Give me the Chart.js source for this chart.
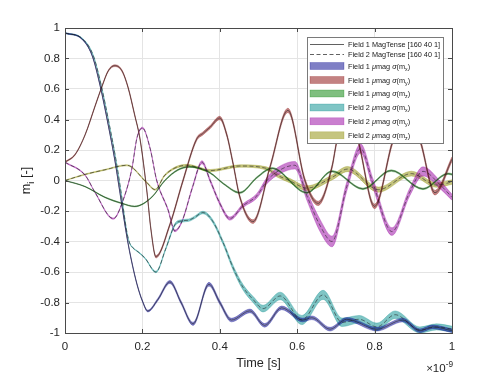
<!DOCTYPE html>
<html><head><meta charset="utf-8">
<script src="https://cdn.jsdelivr.net/npm/chart.js@4.4.0/dist/chart.umd.min.js"></script>
<style>html,body{margin:0;padding:0;background:#fff;}#wrap{width:500px;height:375px;}</style>
</head><body><div id="wrap"><canvas id="c" width="500" height="375"></canvas></div>
<script>
// ---- tick labels ----
const xTickLabels = ['0','0.2','0.4','0.6','0.8','1'];
const yTickLabels = ['-1','-0.8','-0.6','-0.4','-0.2','0','0.2','0.4','0.6','0.8','1'];

// ---- Field 1 m_x ----
const f1mxT = [0,0.043,0.07,0.09,0.112,0.129,0.142,0.16,0.173,0.186,0.2,0.214,0.24,0.271,0.3,0.331,0.372,0.4,0.43,0.478,0.516,0.56,0.614,0.638,0.685,0.728,0.806,0.873,0.917,0.95,1.0];
const f1mxV = [0.967,0.93,0.82,0.63,0.36,0.13,-0.08,-0.37,-0.54,-0.68,-0.79,-0.856,-0.78,-0.665,-0.8,-0.94,-0.68,-0.8,-0.915,-0.855,-0.95,-0.835,-0.915,-0.9,-0.975,-0.91,-0.975,-0.915,-0.985,-0.96,-0.985];
const f1mxS = [0.003,0.003,0.003,0.004,0.004,0.004,0.004,0.005,0.005,0.005,0.005,0.006,0.008,0.01,0.01,0.01,0.012,0.012,0.012,0.012,0.012,0.012,0.012,0.012,0.012,0.012,0.012,0.012,0.012,0.012,0.012];
// ---- Field 1 m_y ----
const f1myT = [0,0.026,0.052,0.078,0.096,0.112,0.129,0.147,0.163,0.18,0.194,0.212,0.222,0.235,0.271,0.305,0.34,0.357,0.375,0.40,0.418,0.434,0.452,0.486,0.53,0.576,0.62,0.654,0.69,0.703,0.73,0.757,0.8,0.848,0.882,0.917,0.956,1.0];
const f1myV = [0.12,0.17,0.30,0.49,0.62,0.72,0.753,0.72,0.61,0.43,0.27,-0.08,-0.32,-0.50,-0.29,0.0,0.27,0.31,0.35,0.41,0.30,0.115,-0.11,-0.27,0.09,0.46,0.0,-0.15,0.09,0.265,0.45,0.265,-0.17,0.265,0.42,0.265,-0.08,0.14];
const f1myS = [0.004,0.004,0.004,0.005,0.005,0.005,0.006,0.006,0.006,0.006,0.006,0.006,0.007,0.008,0.009,0.01,0.01,0.01,0.01,0.011,0.011,0.011,0.011,0.012,0.012,0.014,0.014,0.014,0.014,0.014,0.015,0.015,0.015,0.015,0.015,0.015,0.015,0.015];
// ---- Field 1 m_z ----
const f1mzT = [0,0.052,0.103,0.147,0.18,0.224,0.258,0.292,0.322,0.375,0.409,0.452,0.496,0.535,0.625,0.69,0.77,0.843,0.925,0.99,1.0];
const f1mzV = [0,-0.04,-0.11,-0.15,-0.17,-0.11,0.0,0.07,0.09,0.05,-0.02,-0.08,0.02,0.08,-0.08,0.06,-0.055,0.065,-0.055,0.045,0.04];
const f1mzS = [0.002,0.002,0.003,0.003,0.003,0.003,0.004,0.004,0.004,0.004,0.004,0.005,0.005,0.005,0.005,0.005,0.005,0.005,0.005,0.005,0.005];
// ---- Field 2 m_x ----
const f2mxT = [0,0.045,0.073,0.093,0.115,0.132,0.145,0.16,0.167,0.175,0.19,0.207,0.235,0.26,0.284,0.302,0.32,0.336,0.356,0.38,0.409,0.434,0.46,0.486,0.512,0.556,0.612,0.667,0.716,0.76,0.806,0.853,0.917,0.96,1.0];
const f2mxV = [0.967,0.93,0.82,0.63,0.36,0.13,-0.08,-0.34,-0.41,-0.44,-0.47,-0.51,-0.60,-0.45,-0.29,-0.265,-0.26,-0.24,-0.21,-0.26,-0.41,-0.57,-0.70,-0.78,-0.84,-0.757,-0.915,-0.75,-0.93,-0.91,-0.96,-0.88,-0.98,-0.96,-0.975];
const f2mxS = [0.003,0.003,0.003,0.003,0.003,0.003,0.003,0.003,0.003,0.003,0.003,0.003,0.005,0.006,0.008,0.008,0.008,0.008,0.008,0.01,0.012,0.015,0.018,0.02,0.022,0.025,0.03,0.03,0.028,0.025,0.025,0.025,0.02,0.02,0.02];
// ---- Field 2 m_y ----
const f2myT = [0,0.052,0.078,0.125,0.15,0.173,0.186,0.2,0.22,0.237,0.266,0.284,0.302,0.33,0.354,0.375,0.40,0.426,0.46,0.496,0.522,0.556,0.594,0.625,0.66,0.69,0.728,0.764,0.796,0.845,0.89,0.925,0.97,1.0];
const f2myV = [0.12,0.035,-0.08,-0.25,-0.13,0.08,0.28,0.345,0.21,0.0,-0.19,-0.33,-0.27,-0.04,0.12,0.0,-0.15,-0.25,-0.165,-0.1,0.0,0.07,0.10,-0.1,-0.3,-0.40,-0.04,0.21,-0.02,-0.335,-0.08,0.06,-0.03,-0.11];
const f2myS = [0.003,0.003,0.003,0.004,0.004,0.004,0.004,0.005,0.005,0.005,0.006,0.006,0.006,0.008,0.01,0.01,0.01,0.01,0.012,0.015,0.02,0.025,0.025,0.03,0.04,0.035,0.03,0.03,0.03,0.025,0.025,0.03,0.025,0.02];
// ---- Field 2 m_z ----
const f2mzT = [0,0.052,0.103,0.16,0.21,0.233,0.258,0.315,0.375,0.452,0.52,0.548,0.58,0.625,0.69,0.73,0.81,0.895,0.96,1.0];
const f2mzV = [0,0.04,0.07,0.10,-0.01,-0.06,0.035,0.10,0.065,0.095,0.08,0.035,0.0,-0.05,0.02,0.075,-0.06,0.045,-0.03,-0.01];
const f2mzS = [0.002,0.003,0.003,0.004,0.004,0.004,0.005,0.006,0.007,0.008,0.01,0.012,0.014,0.015,0.016,0.017,0.017,0.016,0.015,0.015];

const legendLabels = ['Field 1 MagTense [160 40 1]','Field 2 MagTense [160 40 1]',
  'Field 1 μmag σ(m_x)','Field 1 μmag σ(m_y)','Field 1 μmag σ(m_z)',
  'Field 2 μmag σ(m_x)','Field 2 μmag σ(m_y)','Field 2 μmag σ(m_z)'];

const series = [
  {T:f1mxT,V:f1mxV,S:f1mxS,col:[0,0,140],dash:[]},
  {T:f1myT,V:f1myV,S:f1myS,col:[135,5,5],dash:[]},
  {T:f1mzT,V:f1mzV,S:f1mzS,col:[0,128,0],dash:[]},
  {T:f2mxT,V:f2mxV,S:f2mxS,col:[0,140,140],dash:[4,2.5]},
  {T:f2myT,V:f2myV,S:f2myS,col:[150,0,160],dash:[4,2.5]},
  {T:f2mzT,V:f2mzV,S:f2mzS,col:[140,140,0],dash:[4,2.5]}
];
const rgba=(c,a)=>`rgba(${c[0]},${c[1]},${c[2]},${a})`;

const datasets=[];
series.forEach(s=>{
  datasets.push({data:s.T.map((t,i)=>({x:t,y:s.V[i]-s.S[i]})),borderColor:rgba(s.col,0.5),borderWidth:0.6,pointRadius:0,fill:false,cubicInterpolationMode:'monotone',order:2});
  datasets.push({data:s.T.map((t,i)=>({x:t,y:s.V[i]+s.S[i]})),borderColor:rgba(s.col,0.5),borderWidth:0.6,pointRadius:0,backgroundColor:rgba(s.col,0.5),fill:'-1',cubicInterpolationMode:'monotone',order:2});
});
series.forEach(s=>{
  datasets.push({data:s.T.map((t,i)=>({x:t,y:s.V[i]})),borderColor:'rgba(30,30,30,0.7)',borderWidth:0.8,borderDash:s.dash,pointRadius:0,fill:false,cubicInterpolationMode:'monotone',order:0});
});

const FONT='"Liberation Sans", Arial, Helvetica, sans-serif';
function tokens(str){
  const out=[];let i=0;
  while(i<str.length){
    const c=str[i];
    if(c==='_'||c==='^'){
      let t='';i++;
      if(str[i]==='{'){i++;while(str[i]!=='}'){t+=str[i];i++;}i++;}else{t=str[i];i++;}
      out.push({t,mode:c==='_'?'sub':'sup',it:false});
    } else {
      const it=(c==='μ'||c==='σ');
      const last=out[out.length-1];
      if(last&&last.mode==='n'&&last.it===it)last.t+=c;else out.push({t:c,mode:'n',it});
      i++;
    }
  }
  return out;
}
function fontFor(tk,size){const s=tk.mode==='n'?size:size*0.72;return (tk.it?'italic ':'')+s+'px '+FONT;}
function richWidth(ctx,str,size){let w=0;tokens(str).forEach(tk=>{ctx.font=fontFor(tk,size);w+=ctx.measureText(tk.t).width;});return w;}
function drawRich(ctx,str,x,y,size,align){
  const w=richWidth(ctx,str,size);
  let cx=align==='center'?x-w/2:(align==='right'?x-w:x);
  ctx.textBaseline='alphabetic';ctx.textAlign='left';
  tokens(str).forEach(tk=>{
    ctx.font=fontFor(tk,size);
    const dy=tk.mode==='sub'?size*0.28:(tk.mode==='sup'?-size*0.42:0);
    ctx.fillText(tk.t,cx,y+dy);cx+=ctx.measureText(tk.t).width;
  });
}

const decor={id:'decor',afterDraw(chart){
  const ctx=chart.ctx,a=chart.chartArea;
  const xs=chart.scales.x,ys=chart.scales.y;
  ctx.save();
  ctx.strokeStyle='#4a4a4a';ctx.lineWidth=1;
  ctx.beginPath();
  xTickLabels.forEach(l=>{const px=Math.round(xs.getPixelForValue(parseFloat(l)))+0.5;ctx.moveTo(px,a.bottom);ctx.lineTo(px,a.bottom-4);ctx.moveTo(px,a.top);ctx.lineTo(px,a.top+4);});
  yTickLabels.forEach(l=>{const py=Math.round(ys.getPixelForValue(parseFloat(l)))+0.5;ctx.moveTo(a.left,py);ctx.lineTo(a.left+4,py);ctx.moveTo(a.right,py);ctx.lineTo(a.right-4,py);});
  ctx.stroke();
  ctx.strokeStyle='#4a4a4a';
  ctx.strokeRect(Math.round(a.left)+0.5,Math.round(a.top)+0.5,Math.round(a.right-a.left),Math.round(a.bottom-a.top));
  ctx.fillStyle='#262626';
  drawRich(ctx,'Time [s]',(a.left+a.right)/2,367,12.7,'center');
  drawRich(ctx,'×10^{-9}',a.right+1,372,11.5,'right');
  ctx.save();ctx.translate(30,(a.top+a.bottom)/2);ctx.rotate(-Math.PI/2);
  drawRich(ctx,'m_i [-]',0,0,12.7,'center');ctx.restore();
  const L={x:307,y:37,w:136,h:106};
  ctx.fillStyle='#fff';ctx.fillRect(L.x,L.y,L.w,L.h);
  ctx.strokeStyle='#7a7a7a';ctx.lineWidth=1;ctx.strokeRect(L.x+0.5,L.y+0.5,L.w,L.h);
  const rowsY=[44.5,54.5,66,80,93.5,107.5,121.3,135.3];
  legendLabels.forEach((lab,i)=>{
    const yy=rowsY[i];
    if(i<2){
      ctx.strokeStyle='rgba(30,30,30,0.7)';ctx.lineWidth=1;ctx.setLineDash(i===0?[]:[4,2.5]);
      ctx.beginPath();ctx.moveTo(310,yy);ctx.lineTo(344,yy);ctx.stroke();ctx.setLineDash([]);
    } else {
      const s=series[i-2];
      ctx.fillStyle=rgba(s.col,0.5);ctx.fillRect(310,yy-3.5,34,7);
      ctx.strokeStyle=rgba(s.col,0.4);ctx.lineWidth=0.6;ctx.strokeRect(310,yy-3.5,34,7);
    }
    ctx.fillStyle='#1a1a1a';
    drawRich(ctx,lab,348,yy+2.6,7.3,'left');
  });
  ctx.restore();
}};

new Chart(document.getElementById('c'),{
  type:'line',
  data:{datasets},
  options:{
    responsive:false,animation:false,devicePixelRatio:1,
    layout:{padding:{top:28,right:48,left:0,bottom:0}},
    plugins:{legend:{display:false},tooltip:{enabled:false}},
    elements:{line:{tension:0}},
    scales:{
      x:{type:'linear',min:0,max:1,
        afterBuildTicks:s=>{s.ticks=xTickLabels.map(l=>({value:parseFloat(l)}));},
        ticks:{callback:(v,i)=>xTickLabels[i],font:{family:FONT,size:11.5},color:'#262626',padding:7,maxRotation:0,autoSkip:false},
        grid:{color:'#e4e4e4',drawTicks:false},border:{display:false},
        afterFit:s=>{s.height=42;}},
      y:{type:'linear',min:-1,max:1,
        afterBuildTicks:s=>{s.ticks=yTickLabels.map(l=>({value:parseFloat(l)}));},
        ticks:{callback:(v,i)=>yTickLabels[i],font:{family:FONT,size:11.5},color:'#262626',padding:5,autoSkip:false},
        grid:{color:'#e4e4e4',drawTicks:false},border:{display:false},
        afterFit:s=>{s.width=65;}}
    }
  },
  plugins:[decor]
});
</script></body></html>
